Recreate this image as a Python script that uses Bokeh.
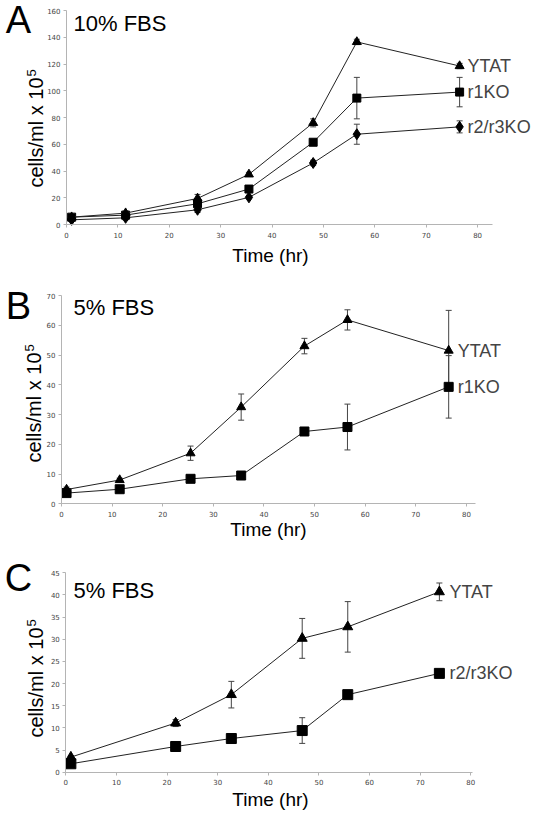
import math
from bokeh.plotting import figure
from bokeh.models import (ColumnDataSource, Whisker, TeeHead, Label, FixedTicker,
                          LinearAxis, Range1d)
from bokeh.embed import file_html
from bokeh.resources import INLINE

# ---------------- data ----------------
# Panel A : 10% FBS
a_time = [1, 11.5, 25.5, 35.5, 48, 56.5, 76.5]
a_ytat = [5.5, 8.5, 19.5, 37.5, 76, 136.5, 118.5]
a_ytat_err = [0.8, 1.5, 3, 1.5, 3, 2, 2]
a_r1ko = [5.5, 7, 15.5, 26.5, 61.5, 94.5, 99]
a_r1ko_err = [1, 1.5, 4, 1.5, 2, 15.5, 11]
a_r2r3 = [3.5, 5, 11, 20.3, 46, 67.5, 73]
a_r2r3_err = [1, 1.5, 2, 1, 2, 7.5, 4.5]

# Panel B : 5% FBS
b_time = [1, 11.5, 25.5, 35.5, 48, 56.5, 76.5]
b_ytat = [4.8, 8, 17, 32.5, 53, 61.8, 51.5]
b_ytat_err = [0.8, 0.6, 2.4, 4.4, 2.6, 3.4, 13.5]
b_r1ko = [3.6, 4.9, 8.4, 9.5, 24.3, 25.8, 39.3]
b_r1ko_err = [0.5, 0.5, 0.6, 0.6, 0.6, 7.7, 10.5]

# Panel C : 5% FBS
c_time = [1, 21.7, 32.7, 46.7, 55.7, 73.8]
c_ytat = [3.4, 11.1, 17.5, 30.2, 32.8, 40.7]
c_ytat_err = [0.3, 0.8, 3, 4.5, 5.7, 2]
c_r2r3 = [1.9, 5.8, 7.6, 9.4, 17.5, 22.3]
c_r2r3_err = [0.3, 0.4, 0.4, 2.9, 0.8, 0.8]

x_ticks = [0, 10, 20, 30, 40, 50, 60, 70, 80]
a_yticks = [0, 20, 40, 60, 80, 100, 120, 140, 160]
b_yticks = [0, 10, 20, 30, 40, 50, 60, 70]
c_yticks = [0, 5, 10, 15, 20, 25, 30, 35, 40, 45]

W, H = 536, 822
SANS = "Liberation Sans"

p = figure(width=W, height=H, x_range=(0, W), y_range=(0, H),
           x_axis_type=None, y_axis_type=None,
           min_border=0, min_border_left=0, min_border_right=0,
           min_border_top=0, min_border_bottom=0,
           output_backend="svg", toolbar_location=None, tools="")
p.xgrid.visible = False
p.ygrid.visible = False
p.outline_line_color = None
p.background_fill_color = "white"
p.border_fill_color = "white"


class Panel:
    """One chart panel: its own x/y ranges placed inside the shared canvas."""

    def __init__(self, name, L, R, T, B, xmax, ymax, yticks):
        self.xn, self.yn = name + "_x", name + "_y"
        self.L, self.R, self.T, self.B = L, R, T, B
        self.xmax, self.ymax = xmax, ymax
        sx = (R - L) / xmax
        xs = -L / sx
        sy = (B - T) / ymax
        ys = -(H - B) / sy
        p.extra_x_ranges[self.xn] = Range1d(xs, xs + W / sx)
        p.extra_y_ranges[self.yn] = Range1d(ys, ys + H / sy)

        xa = LinearAxis(x_range_name=self.xn, y_range_name=self.yn,
                        fixed_location=0, bounds=(0, xmax),
                        ticker=FixedTicker(ticks=x_ticks))
        ya = LinearAxis(x_range_name=self.xn, y_range_name=self.yn,
                        fixed_location=0, bounds=(0, ymax),
                        ticker=FixedTicker(ticks=yticks))
        for ax in (xa, ya):
            ax.axis_line_color = "#b4b4b4"
            ax.axis_line_width = 1
            ax.major_tick_line_color = "#b4b4b4"
            ax.major_tick_out = 3
            ax.major_tick_in = 0
            ax.minor_tick_line_color = None
            ax.major_label_text_font = "DejaVu Sans"
            ax.major_label_text_font_size = "7px"
            ax.major_label_text_color = "#444444"
        xa.major_label_standoff = 4
        ya.major_label_standoff = 3
        p.add_layout(xa, "below")
        p.add_layout(ya, "left")

    def d(self, px, py):
        return ((px - self.L) / (self.R - self.L) * self.xmax,
                (self.B - py) / (self.B - self.T) * self.ymax)

    def label(self, px, py, text, size, align="left", angle=0.0):
        # (px, py) is the centre line of the text in canvas pixels
        x, y = self.d(px, py)
        p.add_layout(Label(x=x, y=y, x_range_name=self.xn, y_range_name=self.yn,
                           text=text, text_font=SANS, text_font_size=f"{size}px",
                           text_font_style="normal",
                           text_align=align, text_baseline="middle", angle=angle,
                           text_color="black"))

    def series(self, xs, ys, errs, marker, size, name, dx):
        src = ColumnDataSource(dict(x=xs, y=ys,
                                    lo=[v - e for v, e in zip(ys, errs)],
                                    hi=[v + e for v, e in zip(ys, errs)]))
        p.line("x", "y", source=src, line_color="#222222", line_width=1,
               x_range_name=self.xn, y_range_name=self.yn)
        w = Whisker(base="x", lower="lo", upper="hi", source=src,
                    x_range_name=self.xn, y_range_name=self.yn,
                    line_color="#444444", line_width=1,
                    lower_head=TeeHead(size=6, line_color="#444444", line_width=1),
                    upper_head=TeeHead(size=6, line_color="#444444", line_width=1))
        p.add_layout(w)
        p.scatter("x", "y", source=src, marker=marker, size=size,
                  fill_color="black", line_color="black",
                  x_range_name=self.xn, y_range_name=self.yn)
        p.add_layout(Label(x=xs[-1], y=ys[-1], x_offset=dx, text=name,
                           x_range_name=self.xn, y_range_name=self.yn,
                           text_font=SANS, text_font_size="18px",
                           text_font_style="normal",
                           text_baseline="middle", text_align="left"))

    def ylabel(self, px_mid, py_end):
        # rotated label reading upward, ending at py_end; superscript continues above
        self.label(px_mid, py_end, "cells/ml x 10", 20, align="right", angle=math.pi / 2)
        self.label(px_mid - 4, py_end - 1, "5", 13, align="left", angle=math.pi / 2)


# ---------------- Panel A ----------------
A = Panel("a", L=66, R=492, T=10, B=224, xmax=82.9, ymax=160, yticks=a_yticks)
A.series(a_time, a_r2r3, a_r2r3_err, "diamond", 11, "r2/r3KO", 8)
A.series(a_time, a_r1ko, a_r1ko_err, "square", 8, "r1KO", 8)
A.series(a_time, a_ytat, a_ytat_err, "triangle", 9, "YTAT", 8)
A.label(18, 19, "A", 38, align="center")
A.label(73, 23, "10% FBS", 22)
A.ylabel(35, 77)
A.label(270, 255, "Time (hr)", 19, align="center")

# ---------------- Panel B ----------------
B = Panel("b", L=61, R=475, T=295, B=503.3, xmax=81.8, ymax=70, yticks=b_yticks)
B.series(b_time, b_r1ko, b_r1ko_err, "square", 9, "r1KO", 9)
B.series(b_time, b_ytat, b_ytat_err, "triangle", 9, "YTAT", 9)
B.label(18, 305, "B", 38, align="center")
B.label(73, 307, "5% FBS", 22)
B.ylabel(33, 352)
B.label(268, 529, "Time (hr)", 19, align="center")

# ---------------- Panel C ----------------
C = Panel("c", L=65.3, R=472.3, T=572.3, B=771.7, xmax=80.4, ymax=45, yticks=c_yticks)
C.series(c_time, c_r2r3, c_r2r3_err, "square", 10, "r2/r3KO", 10)
C.series(c_time, c_ytat, c_ytat_err, "triangle", 10, "YTAT", 10)
C.label(18, 577, "C", 38, align="center")
C.label(73, 590, "5% FBS", 22)
C.ylabel(35, 627)
C.label(270, 799, "Time (hr)", 19, align="center")

open("out.html", "w").write(file_html(p, INLINE))
